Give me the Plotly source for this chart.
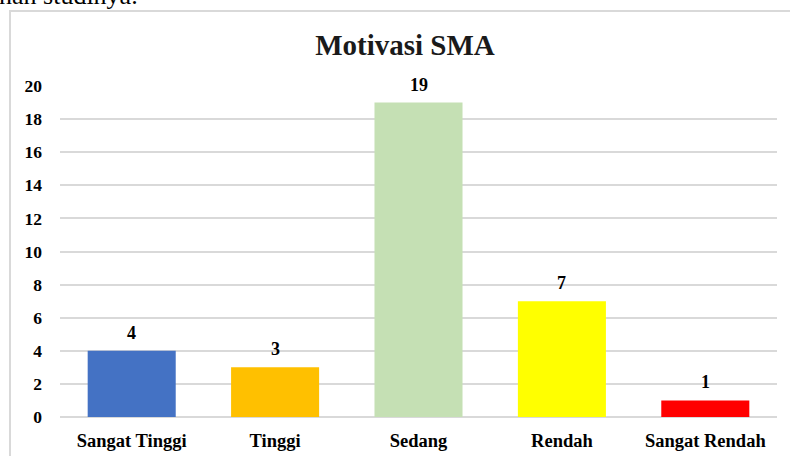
import plotly.graph_objects as go

categories = ["Sangat Tinggi", "Tinggi", "Sedang", "Rendah", "Sangat Rendah"]
values = [4, 3, 19, 7, 1]
colors = ["#4472C4", "#FFC000", "#C5E0B4", "#FFFF00", "#FF0000"]
y_ticks = [0, 2, 4, 6, 8, 10, 12, 14, 16, 18, 20]

W, H = 790, 456
L, R, T, B = 60, 13, 86, 39
pw, ph = W - L - R, H - T - B

def px(x):
    return (x - L) / pw

def py(y):
    return (H - B - y) / ph

font = "Liberation Serif"

fig = go.Figure(go.Bar(
    x=categories, y=values, marker=dict(color=colors, line=dict(width=0)),
    cliponaxis=False,
))

value_labels = [dict(x=c, y=v, xref="x", yref="y", text=str(v), showarrow=False,
                     yanchor="bottom", yshift=6,
                     font=dict(family=font, size=18, color="#000000", weight="bold"))
                for c, v in zip(categories, values)]

fig.update_layout(
    width=W, height=H, margin=dict(l=L, r=R, t=T, b=B, autoexpand=False),
    paper_bgcolor="white", plot_bgcolor="white", bargap=0.386,
    showlegend=False,
    title=dict(text="Motivasi SMA", x=405 / W, xanchor="center", y=1 - 45 / H, yanchor="middle",
               font=dict(family=font, size=29, color="#1a1a1a", weight="bold"), automargin=False),
    font=dict(family=font),
    xaxis=dict(showline=False, ticks="", automargin=False,
               tickfont=dict(family=font, size=18.5, color="#000000", weight="bold"),
               ticklabelstandoff=10),
    yaxis=dict(range=[0, 20], tickvals=y_ticks, showgrid=True, gridcolor="#D9D9D9", gridwidth=1.5,
               zeroline=True, zerolinecolor="#D9D9D9", zerolinewidth=1.5, showline=False, ticks="",
               automargin=False,
               tickfont=dict(family=font, size=17.5, color="#000000", weight="bold"), ticklabelstandoff=17),
    shapes=[dict(type="rect", xref="paper", yref="paper", x0=px(10), x1=px(800), y0=py(11), y1=py(470),
                 line=dict(color="#D9D9D9", width=2), fillcolor="rgba(0,0,0,0)", layer="below")],
    annotations=[dict(text="nan studinya.", xref="paper", yref="paper", x=px(-3), xanchor="left",
                      y=py(12), yanchor="bottom", showarrow=False,
                      font=dict(family=font, size=26, color="#000000"))] + value_labels,
)

fig.write_html("out.html", config={"displayModeBar": False},
               post_script="document.body.style.margin='0';document.body.style.overflow='hidden';")
